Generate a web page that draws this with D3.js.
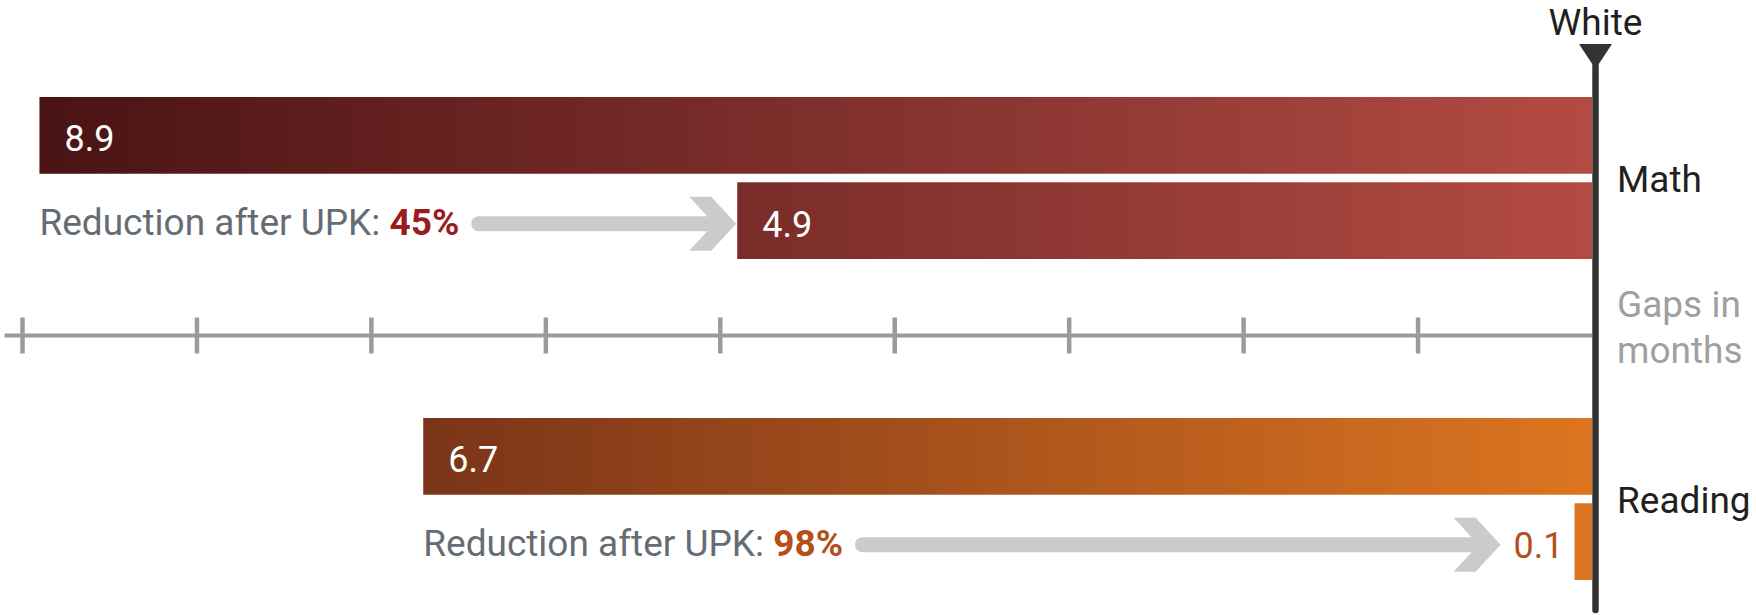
<!DOCTYPE html>
<html>
<head>
<meta charset="utf-8">
<script src="https://cdn.jsdelivr.net/npm/d3@7"></script>
<style>
  html, body { margin: 0; padding: 0; background: #ffffff; }
  svg { display: block; font-family: Roboto, "Open Sans", sans-serif; }
</style>
</head>
<body>
<svg id="chart" width="1756" height="615"></svg>
<script>
// Achievement gaps relative to White children, in months
const categories = ["Math", "Reading"];
const gapBefore = [8.9, 6.7];        // gap before universal pre-K
const gapAfter = [4.9, 0.1];         // gap after universal pre-K
const reductionLabels = ["45%", "98%"];
const tickValues = [1, 2, 3, 4, 5, 6, 7, 8, 9];
const referenceLabel = "White";
const axisTitle = ["Gaps in", "months"];
const reductionText = "Reduction after UPK:";

// Per-subject colour ramps (dark on the left, bright near the reference line)
const palette = {
  Math:    { dark: "#4a1314", light: "#b34b43", accent: "#9b1c20" },
  Reading: { dark: "#7a3418", light: "#dd7520", accent: "#b5501b" }
};

const svg = d3.select("#chart");

const x = d3.scaleLinear().domain([0, 9]).range([1592, 22]);

const yGroup = d3.scaleBand().domain(categories).range([97, 580]).paddingInner(0.4953);
const ySub = d3.scaleBand().domain(["before", "after"]).range([0, yGroup.bandwidth()]).paddingInner(0.1);

const rows = categories.map((c, i) => ({
  cat: c, before: gapBefore[i], after: gapAfter[i], reduction: reductionLabels[i]
}));

// Gradients span from the longest bar's start to the reference line
const defs = svg.append("defs");
rows.forEach(r => {
  const gr = defs.append("linearGradient")
    .attr("id", "grad-" + r.cat)
    .attr("gradientUnits", "userSpaceOnUse")
    .attr("x1", x(r.before)).attr("x2", x(0))
    .attr("y1", 0).attr("y2", 0);
  gr.append("stop").attr("offset", 0).attr("stop-color", palette[r.cat].dark);
  gr.append("stop").attr("offset", 1).attr("stop-color", palette[r.cat].light);
});

// Month axis
const axisY = 335.5;
const axisG = svg.append("g").attr("transform", `translate(0,${axisY})`);
axisG.append("line")
  .attr("x1", x(9.1)).attr("x2", x(0))
  .attr("stroke", "#9b9b9b").attr("stroke-width", 4);
axisG.call(d3.axisBottom(x).tickValues(tickValues).tickSize(18).tickFormat(""));
axisG.select(".domain").remove();
axisG.selectAll(".tick line")
  .attr("y1", -18).attr("y2", 18)
  .attr("stroke", "#9b9b9b").attr("stroke-width", 4.5);

// Bars
const groups = svg.selectAll("g.row").data(rows).join("g")
  .attr("class", "row")
  .attr("transform", d => `translate(0,${yGroup(d.cat)})`);

["before", "after"].forEach(key => {
  groups.append("rect")
    .attr("x", d => x(d[key]))
    .attr("y", ySub(key))
    .attr("width", d => x(0) - x(d[key]))
    .attr("height", ySub.bandwidth())
    .attr("fill", d => `url(#grad-${d.cat})`);
});

const valueFont = 36;
const textFont = 37;

// Value label of the longer bar, inside the bar
groups.append("text")
  .attr("x", d => x(d.before) + 25)
  .attr("y", ySub("before") + ySub.bandwidth() / 2 + 16)
  .attr("fill", "#ffffff")
  .attr("font-size", valueFont)
  .text(d => d.before);

// Reduction annotation and arrow on the second line of each row
groups.each(function(d) {
  const g = d3.select(this);
  const yMid = ySub("after") + ySub.bandwidth() / 2 + 3;
  const barX = x(d.after);
  const wide = (x(0) - barX) > 90;

  // label for the after-UPK bar
  const lab = g.append("text")
    .attr("font-size", valueFont)
    .attr("y", ySub("after") + ySub.bandwidth() / 2 + 16)
    .text(d.after);
  let tipX;
  if (wide) {
    lab.attr("x", barX + 25).attr("fill", "#ffffff");
    tipX = barX - 1;
  } else {
    lab.attr("x", barX - 11).attr("text-anchor", "end").attr("fill", palette[d.cat].accent);
    const bb = lab.node().getBBox();
    tipX = bb.x - 13;
  }

  // "Reduction after UPK: NN%"
  const t = g.append("text")
    .attr("x", x(d.before))
    .attr("y", yMid + 11)
    .attr("font-size", textFont);
  t.append("tspan").attr("fill", "#656c74").text(reductionText + " ");
  t.append("tspan").attr("fill", palette[d.cat].accent).attr("font-weight", 700).text(d.reduction);
  const tb = t.node().getBBox();
  const startX = tb.x + tb.width + 12;

  // arrow shaft
  g.append("line")
    .attr("x1", startX + 7.5).attr("x2", tipX - 24)
    .attr("y1", yMid).attr("y2", yMid)
    .attr("stroke", "#cbcbcb").attr("stroke-width", 15)
    .attr("stroke-linecap", "round");
  // chevron head
  const hh = 27;
  g.append("path")
    .attr("d", `M${tipX - 47},${yMid - hh} L${tipX - 25},${yMid - hh} L${tipX},${yMid} L${tipX - 25},${yMid + hh} L${tipX - 47},${yMid + hh} L${tipX - 22},${yMid} Z`)
    .attr("fill", "#cbcbcb");
});

// Reference line for White children
const refX = x(0) + 3.5;
svg.append("line")
  .attr("x1", refX).attr("x2", refX)
  .attr("y1", 66).attr("y2", 610)
  .attr("stroke", "#333333").attr("stroke-width", 6.5)
  .attr("stroke-linecap", "round");
svg.append("path")
  .attr("d", `M${refX - 16.5},44 L${refX + 16.5},44 L${refX},69 Z`)
  .attr("fill", "#333333");
svg.append("text")
  .attr("x", refX).attr("y", 35)
  .attr("text-anchor", "middle")
  .attr("font-size", 37)
  .attr("fill", "#231f20")
  .text(referenceLabel);

// Subject labels to the right of the reference line
svg.selectAll("text.cat").data(rows).join("text")
  .attr("class", "cat")
  .attr("x", 1617)
  .attr("y", d => yGroup(d.cat) + ySub("after") - (ySub.step() - ySub.bandwidth()) / 2 + 14)
  .attr("font-size", 37)
  .attr("fill", "#231f20")
  .text(d => d.cat);

// Axis title
svg.append("text")
  .attr("x", 1617)
  .attr("font-size", 37)
  .attr("fill", "#a0a0a0")
  .selectAll("tspan").data(axisTitle).join("tspan")
  .attr("x", 1617)
  .attr("y", (d, i) => axisY - 18.5 + i * 46)
  .text(d => d);
</script>
</body>
</html>
